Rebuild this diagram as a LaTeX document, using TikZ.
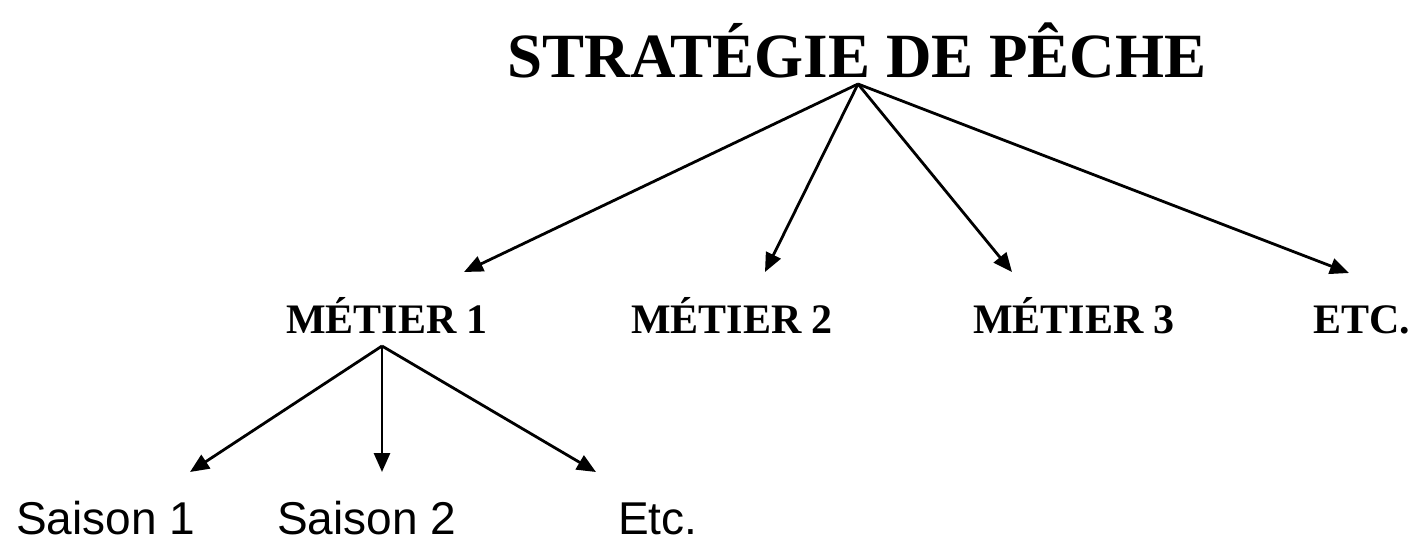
\documentclass[tikz,border=0pt]{standalone}
\usepackage{fontspec}
\setmainfont{Liberation Serif}
\newfontfamily\arialfont{Liberation Sans}
\usetikzlibrary{arrows.meta}
\begin{document}
\begin{tikzpicture}[x=1pt,y=-1pt,
  headline/.style={inner sep=0pt,anchor=base,font=\bfseries\fontsize{63}{70}\selectfont},
  trade/.style={inner sep=0pt,anchor=base,font=\bfseries\fontsize{42}{48}\selectfont},
  season/.style={inner sep=0pt,anchor=base west,font=\arialfont\fontsize{46}{52}\selectfont},
  link/.style={line width=2.8pt,-{Triangle[length=19pt,width=16pt]}}]
  \useasboundingbox (0,0) rectangle (1416,542);

  % top level
  \node[headline] (strat) at (857,77) {STRATÉGIE DE PÊCHE};
  \coordinate (stratfoot) at (858,84);

  % trades
  \node[trade] (m1) at (387,333) {MÉTIER 1};
  \node[trade] (m2) at (732,333) {MÉTIER 2};
  \node[trade] (m3) at (1074,333) {MÉTIER 3};
  \node[trade] (m4) at (1362,333) {ETC.};
  \coordinate (m1in) at (464,272);
  \coordinate (m2in) at (765,272);
  \coordinate (m3in) at (1012,272);
  \coordinate (m4in) at (1349,273);
  \coordinate (m1foot) at (382,346);

  % seasons
  \node[season] (s1) at (16,534) {Saison 1};
  \node[season] (s2) at (277,534) {Saison 2};
  \node[season] (s3) at (618,534) {Etc.};
  \coordinate (s1in) at (190,472);
  \coordinate (s2in) at (382,472);
  \coordinate (s3in) at (596,472);

  % connectors
  \foreach \t in {m1in,m2in,m3in,m4in}
    \draw[link] (stratfoot) -- (\t);
  \foreach \t in {s1in,s2in,s3in}
    \draw[link] (m1foot) -- (\t);
\end{tikzpicture}
\end{document}
